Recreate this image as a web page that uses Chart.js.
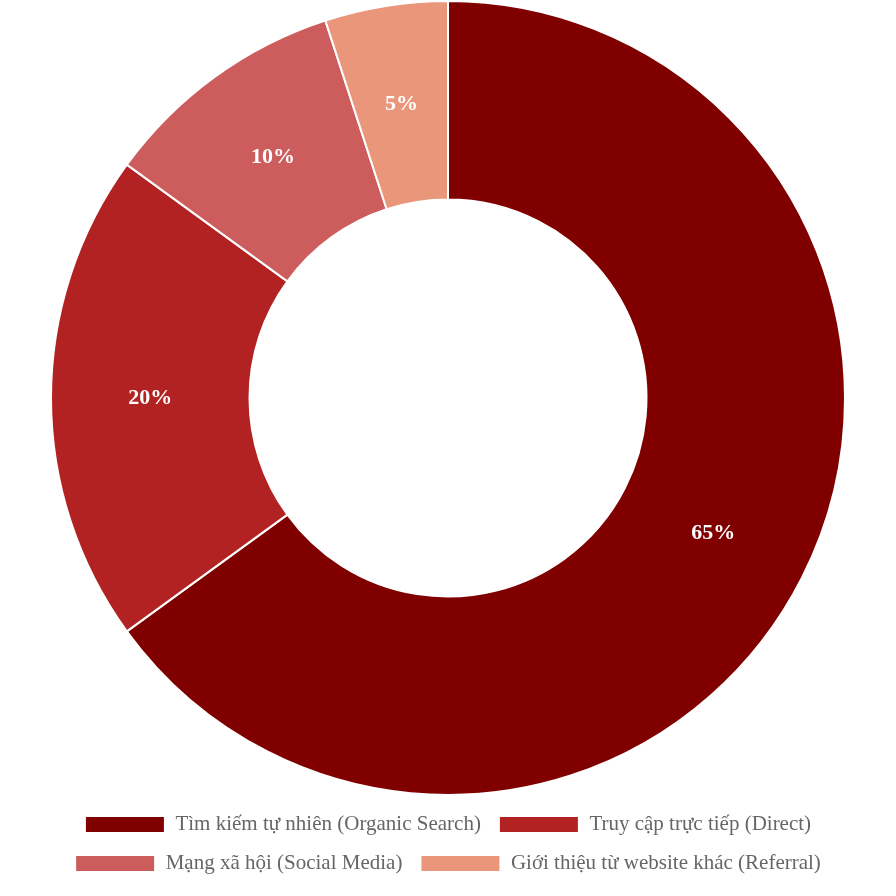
<!DOCTYPE html>
<html>
<head>
<meta charset="utf-8">
<script src="https://cdn.jsdelivr.net/npm/chart.js@4"></script>
<style>
  html, body { margin: 0; padding: 0; background: #fff; }
  #wrap { width: 896px; height: 896px; }
</style>
</head>
<body>
<div id="wrap"><canvas id="pieChart"></canvas></div>
<script>
// Traffic source shares
const labels = [
    'Tìm kiếm tự nhiên (Organic Search)',
    'Truy cập trực tiếp (Direct)',
    'Mạng xã hội (Social Media)',
    'Giới thiệu từ website khác (Referral)'
];
const values = [65, 20, 10, 5];
const colors = ['#800000', '#B22222', '#CD5C5C', '#E9967A'];

// Draw percentage text in the middle of each slice
const sliceLabels = {
    id: 'sliceLabels',
    afterDatasetsDraw(chart) {
        const c = chart.ctx;
        const meta = chart.getDatasetMeta(0);
        c.save();
        c.fillStyle = '#fff';
        c.font = 'bold 22px "Liberation Serif", serif';
        c.textAlign = 'center';
        c.textBaseline = 'middle';
        meta.data.forEach((arc, i) => {
            const p = arc.tooltipPosition();
            c.fillText(values[i] + '%', p.x, p.y);
        });
        c.restore();
    }
};

new Chart(document.getElementById('pieChart'), {
    type: 'doughnut',
    data: {
        labels: labels,
        datasets: [{
            data: values,
            backgroundColor: colors,
            borderColor: '#fff',
            borderWidth: 2
        }]
    },
    options: {
        responsive: true,
        maintainAspectRatio: false,
        animation: false,
        cutout: '50%',
        layout: { padding: { top: 0, bottom: 12 } },
        plugins: {
            legend: {
                position: 'bottom',
                labels: {
                    boxWidth: 80,
                    boxHeight: 17,
                    padding: 18,
                    color: '#666',
                    font: { family: '"Liberation Serif", serif', size: 21 }
                }
            },
            tooltip: { enabled: false }
        }
    },
    plugins: [sliceLabels]
});
</script>
</body>
</html>
